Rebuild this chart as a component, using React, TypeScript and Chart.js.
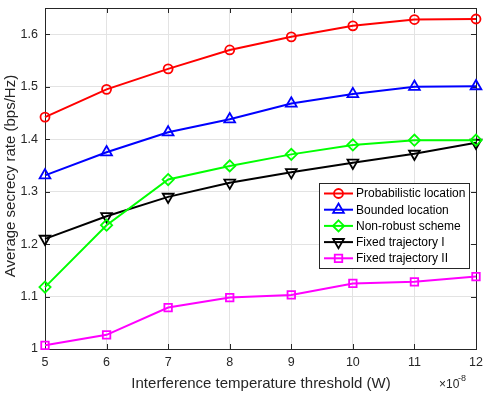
import React, { useEffect, useRef } from "react";
import { Chart, registerables } from "chart.js";

Chart.register(...registerables);

const xValues = [5, 6, 7, 8, 9, 10, 11, 12];
const probabilistic = [1.442, 1.495, 1.534, 1.570, 1.595, 1.616, 1.628, 1.629];
const bounded = [1.331, 1.375, 1.413, 1.438, 1.468, 1.486, 1.500, 1.501];
const nonRobust = [1.118, 1.236, 1.323, 1.349, 1.371, 1.389, 1.398, 1.398];
const fixedI = [1.210, 1.253, 1.290, 1.317, 1.337, 1.355, 1.372, 1.393];
const fixedII = [1.007, 1.027, 1.079, 1.098, 1.103, 1.125, 1.128, 1.138];
const seriesNames = [
  "Probabilistic location",
  "Bounded location",
  "Non-robust scheme",
  "Fixed trajectory I",
  "Fixed trajectory II",
];
const yTicks = [1, 1.1, 1.2, 1.3, 1.4, 1.5, 1.6];

const FONT = "'Liberation Sans', Arial, Helvetica, sans-serif";
const AX = "#262626";

const styles = [
  { color: "#ff0000", pointStyle: "circle", radius: 4.5, rotation: 0 },
  { color: "#0000ff", pointStyle: "triangle", radius: 6.2, rotation: 0 },
  { color: "#00ff00", pointStyle: "rectRot", radius: 5.6, rotation: 0 },
  { color: "#000000", pointStyle: "triangle", radius: 6.2, rotation: 180 },
  { color: "#ff00ff", pointStyle: "rect", radius: 5.3, rotation: 0 },
];

function marker(ctx: CanvasRenderingContext2D, style: string, r: number, rot: number, x: number, y: number) {
  ctx.beginPath();
  if (style === "circle") {
    ctx.arc(x, y, r, 0, Math.PI * 2);
  } else if (style === "triangle") {
    const base = (rot * Math.PI) / 180;
    for (let k = 0; k < 3; k++) {
      const a = base + (k * 2 * Math.PI) / 3;
      const px = x + Math.sin(a) * r;
      const py = y - Math.cos(a) * r;
      if (k === 0) ctx.moveTo(px, py);
      else ctx.lineTo(px, py);
    }
    ctx.closePath();
  } else if (style === "rectRot") {
    ctx.moveTo(x, y - r);
    ctx.lineTo(x + r, y);
    ctx.lineTo(x, y + r);
    ctx.lineTo(x - r, y);
    ctx.closePath();
  } else {
    const s = r * Math.SQRT1_2;
    ctx.rect(x - s, y - s, 2 * s, 2 * s);
  }
  ctx.stroke();
}

export default function App() {
  const ref = useRef<HTMLCanvasElement | null>(null);
  useEffect(() => {
    if (!ref.current) return;
    const all = [probabilistic, bounded, nonRobust, fixedI, fixedII];
    const datasets = all.map((vals, i) => ({
      label: seriesNames[i],
      data: vals.map((v, j) => ({ x: xValues[j], y: v })),
      borderColor: styles[i].color,
      backgroundColor: "transparent",
      borderWidth: 2,
      pointStyle: styles[i].pointStyle as any,
      pointRadius: styles[i].radius,
      pointRotation: styles[i].rotation,
      pointBorderWidth: 1.8,
      pointBorderColor: styles[i].color,
      pointBackgroundColor: "transparent",
      tension: 0,
      clip: false as any,
    }));

    const framePlugin = {
      id: "frame",
      beforeDatasetsDraw(chart: any) {
        const { ctx, chartArea: a, scales } = chart;
        ctx.save();
        ctx.strokeStyle = AX;
        ctx.lineWidth = 1;
        ctx.beginPath();
        for (const v of xValues) {
          const px = Math.round(scales.x.getPixelForValue(v)) + 0.5;
          ctx.moveTo(px, a.bottom);
          ctx.lineTo(px, a.bottom - 5);
          ctx.moveTo(px, a.top);
          ctx.lineTo(px, a.top + 5);
        }
        for (const v of yTicks) {
          const py = Math.round(scales.y.getPixelForValue(v)) + 0.5;
          ctx.moveTo(a.left, py);
          ctx.lineTo(a.left + 5, py);
          ctx.moveTo(a.right, py);
          ctx.lineTo(a.right - 5, py);
        }
        ctx.stroke();
        ctx.strokeRect(Math.round(a.left) + 0.5, Math.round(a.top) + 0.5, Math.round(a.right - a.left), Math.round(a.bottom - a.top));
        ctx.restore();
      },
      afterDraw(chart: any) {
        const { ctx } = chart;
        ctx.save();
        ctx.fillStyle = AX;
        ctx.font = `15px ${FONT}`;
        ctx.textAlign = "center";
        ctx.textBaseline = "middle";
        ctx.fillText("Interference temperature threshold (W)", 261, 384);
        ctx.save();
        ctx.translate(10.5, 176);
        ctx.rotate(-Math.PI / 2);
        ctx.fillText("Average secrecy rate (bps/Hz)", 0, 0);
        ctx.restore();
        ctx.textAlign = "left";
        ctx.font = `12px ${FONT}`;
        ctx.fillText("\u00d710", 439, 385);
        ctx.font = `9px ${FONT}`;
        ctx.fillText("-8", 458, 379);
        const lx = 319, ly = 183, lw = 150, lh = 85;
        ctx.fillStyle = "#ffffff";
        ctx.fillRect(lx, ly, lw, lh);
        ctx.strokeStyle = AX;
        ctx.lineWidth = 1;
        ctx.strokeRect(lx + 0.5, ly + 0.5, lw, lh);
        ctx.font = `12px ${FONT}`;
        ctx.textBaseline = "middle";
        for (let i = 0; i < seriesNames.length; i++) {
          const cy = ly + 10.5 + i * 16.2;
          const s = styles[i];
          ctx.strokeStyle = s.color;
          ctx.lineWidth = 2;
          ctx.beginPath();
          ctx.moveTo(324, cy);
          ctx.lineTo(353, cy);
          ctx.stroke();
          ctx.lineWidth = 1.8;
          marker(ctx, s.pointStyle, s.radius, s.rotation, 338.5, cy);
          ctx.fillStyle = "#000000";
          ctx.fillText(seriesNames[i], 356, cy + 0.5);
        }
        ctx.restore();
      },
    };

    const chart = new Chart(ref.current, {
      type: "line",
      data: { datasets: datasets as any },
      options: {
        responsive: false,
        animation: false,
        layout: { padding: { left: 0, right: 9, top: 8, bottom: 0 } },
        plugins: { legend: { display: false }, tooltip: { enabled: false } },
        scales: {
          x: {
            type: "linear",
            min: 5,
            max: 12,
            afterBuildTicks: (s: any) => {
              s.ticks = xValues.map((v) => ({ value: v }));
            },
            afterFit: (s: any) => {
              s.height = 44;
              s.paddingLeft = 0;
              s.paddingRight = 0;
            },
            ticks: {
              color: AX,
              font: { family: FONT, size: 12.5 },
              padding: 6,
              maxRotation: 0,
              callback: (v: any) => String(v),
            },
            grid: { color: "#e3e3e3", lineWidth: 1, drawTicks: false },
            border: { display: false },
          },
          y: {
            type: "linear",
            min: 1,
            max: 1.65,
            afterBuildTicks: (s: any) => {
              s.ticks = yTicks.map((v) => ({ value: v }));
            },
            afterFit: (s: any) => {
              s.width = 45;
              s.paddingTop = 0;
              s.paddingBottom = 0;
            },
            ticks: {
              color: AX,
              font: { family: FONT, size: 12.5 },
              padding: 7,
              callback: (v: any) => String(Number(Number(v).toFixed(2))),
            },
            grid: { color: "#e3e3e3", lineWidth: 1, drawTicks: false },
            border: { display: false },
          },
        },
      },
      plugins: [framePlugin],
    });
    return () => chart.destroy();
  }, []);
  return (
    <div style={{ position: "fixed", left: 0, top: 0, width: 485, height: 393, background: "#fff" }}>
      <canvas ref={ref} width={485} height={393} style={{ display: "block", width: 485, height: 393 }} />
    </div>
  );
}
